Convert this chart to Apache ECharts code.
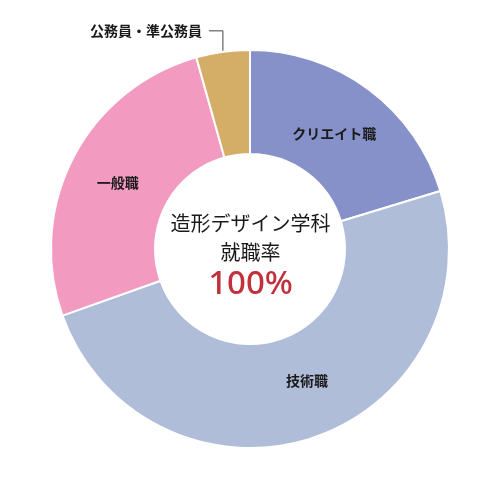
<!DOCTYPE html>
<html>
<head>
<meta charset="utf-8">
<title></title>
<script src="https://cdn.jsdelivr.net/npm/echarts@6/dist/echarts.min.js"></script>
<style>
html, body { margin: 0; padding: 0; background: #fff; }
#main { width: 501px; height: 501px; }
</style>
</head>
<body>
<div id="main"></div>
<script>
// 就職先の内訳 (人数はグラフの角度から読み取り)
var CATEGORIES = ['クリエイト職', '技術職', '一般職', '公務員・準公務員'];
var COUNTS = [14, 34, 18, 3];
var COLORS = ['#8591c8', '#b0bdd9', '#f39ac1', '#d4ae67'];
var TITLE_LINES = ['造形デザイン学科', '就職率'];
var RATE = '100%';

var FONT = '"Noto Sans CJK JP", "Noto Sans", sans-serif';

var myChart = echarts.init(document.getElementById('main'));

// ラベル位置の微調整
var LABEL_OFFSETS = [[-5, 5], [10, -11], [1, 3], null];

var pieData = CATEGORIES.map(function (name, i) {
	var item = { name: name, value: COUNTS[i], itemStyle: { color: COLORS[i] } };
	if (LABEL_OFFSETS[i]) {
		item.label = { offset: LABEL_OFFSETS[i] };
	}
	if (i === 3) {
		// 小さいスライスだけ外にラベルを出す
		item.label = { position: 'outside' };
		item.labelLine = { show: true, length: 21, length2: 14 };
	}
	return item;
});

var option = {
	animation: false,
	backgroundColor: '#fff',
	graphic: [
		{
			type: 'text', left: 'center', top: 213,
			style: { text: TITLE_LINES[0], font: '400 20px ' + FONT, fill: '#1a1a1a' }
		},
		{
			type: 'text', left: 'center', top: 242,
			style: { text: TITLE_LINES[1], font: '400 20px ' + FONT, fill: '#1a1a1a' }
		},
		{
			type: 'text', left: 'center', top: 268,
			style: { text: RATE, font: '500 33px "Noto Sans", sans-serif', fill: '#c0313b' }
		}
	],
	series: [{
		type: 'pie',
		center: [250, 249],
		radius: [95, 199],
		startAngle: 90,
		clockwise: true,
		avoidLabelOverlap: false,
		itemStyle: { borderColor: '#fff', borderWidth: 2 },
		label: {
			show: true,
			position: 'inside',
			formatter: '{b}',
			color: '#1a1a1a',
			fontFamily: FONT,
			fontSize: 14,
			fontWeight: 'bold'
		},
		labelLine: { show: false, lineStyle: { color: '#444', width: 1 } },
		labelLayout: function (params) {
			if (params.dataIndex !== 3 || !params.labelLinePoints) return {};
			var p = params.labelLinePoints[0];
			var up = [p[0], p[1] - 21];
			var end = [p[0] - 14, p[1] - 21];
			return {
				x: end[0] - 7,
				y: end[1],
				align: 'right',
				verticalAlign: 'middle',
				labelLinePoints: [p, up, end]
			};
		},
		emphasis: { disabled: true },
		data: pieData
	}]
};

myChart.setOption(option);
</script>
</body>
</html>
